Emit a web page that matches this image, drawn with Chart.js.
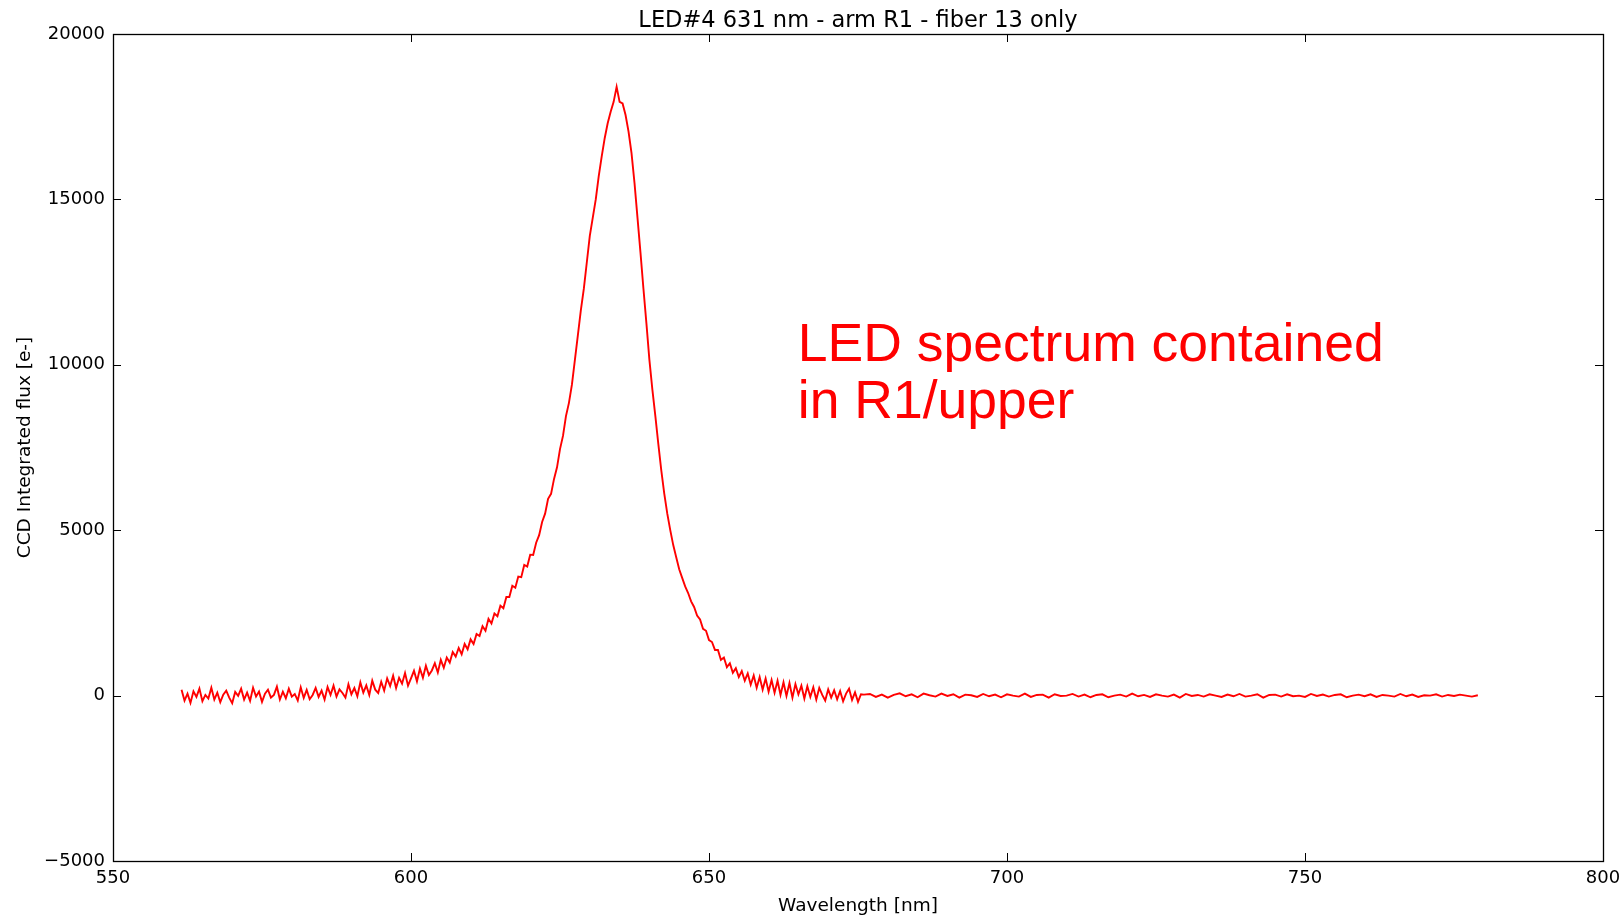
<!DOCTYPE html>
<html>
<head>
<meta charset="utf-8">
<script src="https://cdn.jsdelivr.net/npm/chart.js@4.4.1/dist/chart.umd.min.js"></script>
<style>
html,body{margin:0;padding:0;background:#fff;}
#wrap{width:1623px;height:916px;position:relative;}
canvas{display:block;}
</style>
</head>
<body>
<div id="wrap"><canvas id="c" width="1623" height="916"></canvas></div>
<script>
// ---- data ----
const chartTitle = "LED#4 631 nm - arm R1 - fiber 13 only";
const xAxisTitle = "Wavelength [nm]";
const yAxisTitle = "CCD Integrated flux [e-]";
const annotationLines = ["LED spectrum contained", "in R1/upper"];

const xTickValues = [550, 600, 650, 700, 750, 800];
const yTickValues = [-5000, 0, 5000, 10000, 15000, 20000];

// segment A: 561.5 nm .. 676.0 nm sampled every 0.5 nm
const wlStartA = 561.5, wlStepA = 0.5;
const fluxA = [
  180,-150,60,-220,130,-40,210,-170,20,-90,
  240,-120,90,-200,30,150,-60,-230,110,-10,
  210,-120,90,-160,240,-30,120,-190,60,180,
  -60,20,270,-120,120,-80,210,-30,50,-150,
  250,-70,170,-110,20,230,-40,150,-120,260,
  20,300,-30,190,80,-60,340,40,230,-20,
  400,90,310,20,450,180,80,420,150,520,
  290,600,230,540,360,680,300,520,750,430,
  820,540,900,620,760,980,700,1080,840,1150,
  1000,1320,1180,1440,1250,1560,1400,1700,1560,1860,
  1800,2100,1960,2320,2180,2480,2400,2720,2640,2980,
  2980,3320,3260,3600,3580,3950,3900,4260,4250,4620,
  4850,5250,5500,5950,6100,6550,6900,7450,7850,8450,
  8850,9400,10150,10900,11650,12300,13100,13900,14450,15000,
  15700,16300,16850,17300,17650,17950,18400,17950,17900,17550,
  17050,16400,15500,14450,13400,12300,11250,10150,9250,8450,
  7600,6800,6100,5500,5000,4550,4180,3820,3560,3300,
  3100,2850,2680,2420,2300,2020,1960,1680,1620,1380,
  1380,1080,1150,860,980,690,830,560,740,450,
  670,330,610,240,560,180,520,120,470,90,
  450,20,400,-10,380,-60,350,40,300,-90,
  280,-40,250,-120,230,20,-150,190,-60,160,
  -110,140,-170,60,210,-130,100,-190,40,30
];
// segment B: 677 nm .. 779 nm sampled every 1 nm
const wlStartB = 677, wlStepB = 1;
const fluxB = [
  50,-40,30,-60,20,70,-20,40,-50,60,
  10,-30,60,-10,40,-60,30,10,-40,50,
  -20,30,-50,40,0,-30,60,-40,20,30,
  -60,40,-10,0,50,-30,30,-50,20,40,
  -50,0,30,-30,60,-20,20,-40,40,0,
  -30,30,-60,50,-10,20,-30,40,0,-40,
  30,-20,50,-30,0,40,-60,20,30,-30,
  40,-20,0,-40,50,-10,30,-30,20,40,
  -50,0,30,-20,40,-40,20,0,-30,50,
  -20,30,-40,10,0,40,-30,20,-10,30,
  0,-30,10
];

// ---- build points ----
const points = [];
fluxA.forEach((v, i) => points.push({x: wlStartA + i * wlStepA, y: v}));
fluxB.forEach((v, i) => points.push({x: wlStartB + i * wlStepB, y: v}));

// ---- styles ----
const TICK_FONT = {family: "'DejaVu Sans'", size: 18};
const LABEL_FONT = {family: "'DejaVu Sans'", size: 18.5, lineHeight: 1.1};
const fmt = v => (v < 0 ? "\u2212" + Math.abs(v) : String(v));
const annotationAnchor = {x: 664.9, y1: 10115, y2: 8395};

const framePlugin = {
  id: 'frame',
  afterDraw(chart) {
    const {ctx, chartArea: a, scales: {x, y}} = chart;
    ctx.save();
    ctx.strokeStyle = '#000';
    ctx.lineWidth = 1;
    const tl = 8;
    ctx.beginPath();
    xTickValues.forEach(v => {
      const px = Math.round(x.getPixelForValue(v)) + 0.5;
      ctx.moveTo(px, a.bottom); ctx.lineTo(px, a.bottom - tl);
      ctx.moveTo(px, a.top); ctx.lineTo(px, a.top + tl);
    });
    yTickValues.forEach(v => {
      const py = Math.round(y.getPixelForValue(v)) + 0.5;
      ctx.moveTo(a.left, py); ctx.lineTo(a.left + tl, py);
      ctx.moveTo(a.right, py); ctx.lineTo(a.right - tl, py);
    });
    ctx.stroke();
    ctx.lineWidth = 1.3;
    ctx.strokeRect(Math.round(a.left) + 0.5, Math.round(a.top) + 0.5,
                   Math.round(a.right - a.left), Math.round(a.bottom - a.top));

    // title
    ctx.fillStyle = '#000';
    ctx.font = "22.5px 'DejaVu Sans'";
    ctx.textAlign = 'center';
    ctx.textBaseline = 'alphabetic';
    ctx.fillText(chartTitle, (a.left + a.right) / 2, a.top - 7);

    // annotation
    ctx.fillStyle = '#ff0000';
    ctx.font = "53.5px 'Liberation Sans'";
    ctx.textAlign = 'left';
    ctx.fillText(annotationLines[0], x.getPixelForValue(annotationAnchor.x), y.getPixelForValue(annotationAnchor.y1));
    ctx.fillText(annotationLines[1], x.getPixelForValue(annotationAnchor.x), y.getPixelForValue(annotationAnchor.y2));
    ctx.restore();
  }
};

new Chart(document.getElementById('c'), {
  type: 'line',
  data: {
    datasets: [{
      data: points,
      borderColor: '#ff0000',
      borderWidth: 1.9,
      pointRadius: 0,
      tension: 0,
      fill: false
    }]
  },
  options: {
    responsive: false,
    animation: false,
    parsing: false,
    normalized: true,
    layout: {padding: {top: 34, right: 20, left: 0, bottom: 0}},
    plugins: {legend: {display: false}, tooltip: {enabled: false}, title: {display: false}},
    scales: {
      x: {
        type: 'linear', min: 550, max: 800,
        afterBuildTicks: s => { s.ticks = xTickValues.map(v => ({value: v})); },
        ticks: {font: TICK_FONT, color: '#000', padding: 7, maxRotation: 0, autoSkip: false,
                callback: v => fmt(v)},
        grid: {display: false, drawTicks: false},
        border: {display: false},
        title: {display: true, text: xAxisTitle, font: LABEL_FONT, color: '#000', padding: {top: 2, bottom: 0}},
        afterFit: s => { s.height = 55; s.paddingLeft = 0; s.paddingRight = 0; }
      },
      y: {
        type: 'linear', min: -5000, max: 20000,
        afterBuildTicks: s => { s.ticks = yTickValues.map(v => ({value: v})); },
        ticks: {font: TICK_FONT, color: '#000', padding: 8, autoSkip: false,
                callback: v => fmt(v)},
        grid: {display: false, drawTicks: false},
        border: {display: false},
        title: {display: true, text: yAxisTitle, font: LABEL_FONT, color: '#000', padding: {top: 15, bottom: 0}},
        afterFit: s => { s.width = 113; s.paddingTop = 0; s.paddingBottom = 0; }
      }
    }
  },
  plugins: [framePlugin]
});
</script>
</body>
</html>
